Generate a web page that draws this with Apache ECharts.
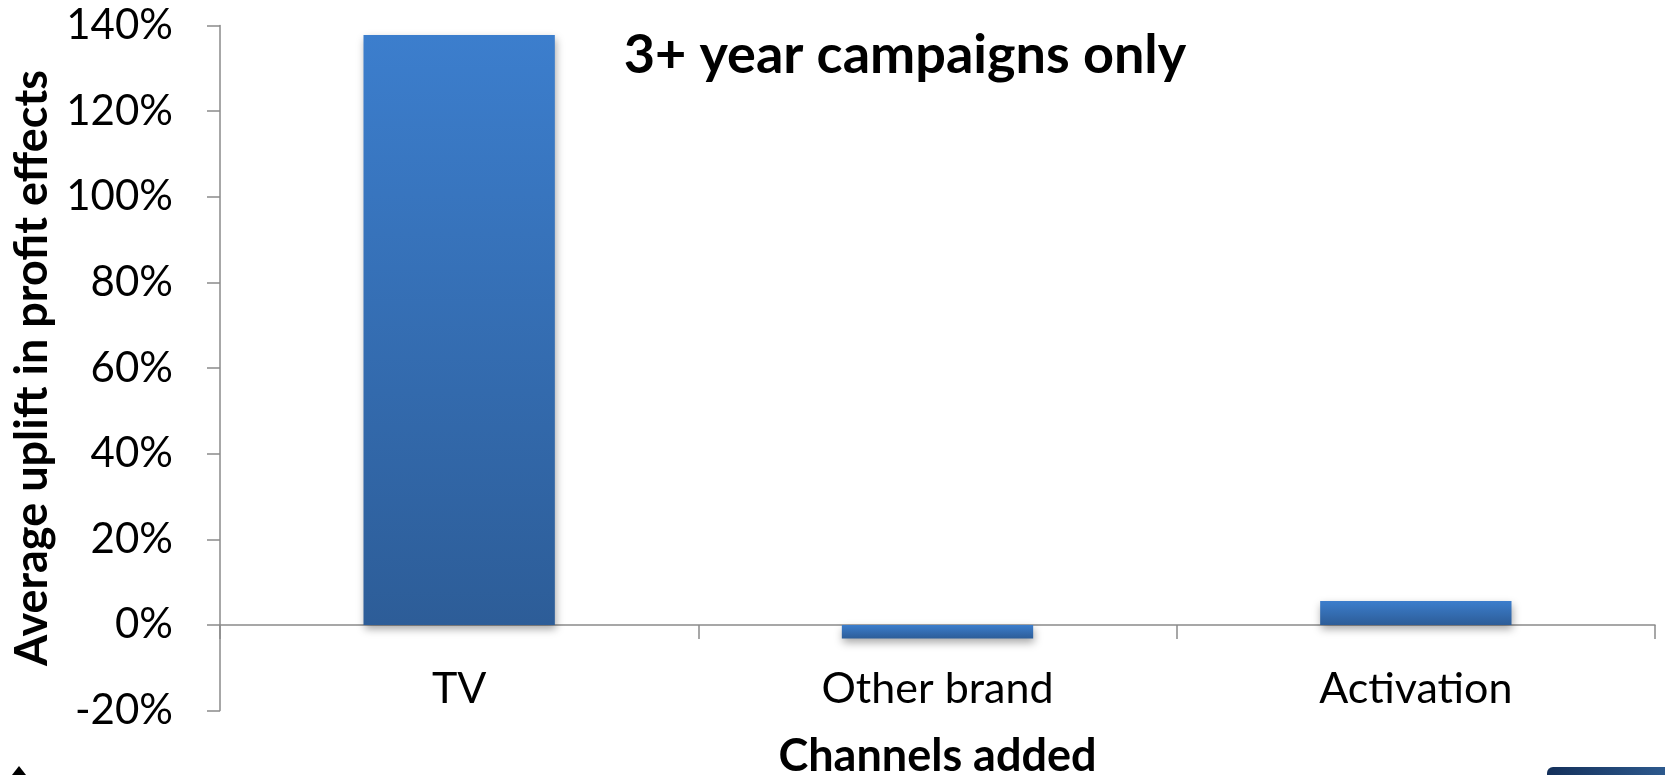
<!DOCTYPE html>
<html>
<head>
<meta charset="utf-8">
<script src="https://cdn.jsdelivr.net/npm/echarts@6/dist/echarts.min.js"></script>
<style>
  html, body { margin: 0; padding: 0; background: #ffffff; }
  #chart { width: 1665px; height: 775px; }
</style>
</head>
<body>
<div id="chart"></div>
<script>
// Channels added to long-running campaigns and the average profit uplift (%)
const categories = ['TV', 'Other brand', 'Activation'];
const upliftValues = [137.8, -3.2, 5.6];
const yTicks = [-20, 0, 20, 40, 60, 80, 100, 120, 140];

const titleText = '3+ year campaigns only';
const xAxisName = 'Channels added';
const yAxisName = 'Average uplift in profit effects';

const FONT = 'Lato, "Open Sans", sans-serif';
const AXIS_GREY = '#8a8a8a';

const chart = echarts.init(document.getElementById('chart'), null, { renderer: 'canvas' });

chart.setOption({
  backgroundColor: '#ffffff',
  animation: false,
  title: {
    text: titleText,
    left: 900,
    top: 24,
    textAlign: 'center',
    textStyle: { fontFamily: FONT, fontWeight: 'bold', fontSize: 54, color: '#000000' }
  },
  grid: {
    left: 220, right: 10, top: 25.5, bottom: 64.5,
    containLabel: false,
    outerBoundsMode: 'none'
  },
  xAxis: {
    type: 'category',
    data: categories,
    name: xAxisName,
    nameLocation: 'middle',
    nameGap: 23,
    nameTextStyle: { fontFamily: FONT, fontWeight: 'bold', fontSize: 45, color: '#000000' },
    axisLine: { onZero: true, lineStyle: { color: AXIS_GREY, width: 1.5 } },
    axisTick: { show: true, alignWithLabel: false, length: 14, lineStyle: { color: AXIS_GREY, width: 1.5 } },
    // labels sit in the band just above the bottom edge of the plot
    axisLabel: { margin: -43, fontFamily: FONT, fontSize: 43, color: '#000000' },
    splitLine: { show: false }
  },
  yAxis: {
    type: 'value',
    min: -20,
    max: 140,
    interval: 20,
    name: yAxisName,
    nameLocation: 'middle',
    nameGap: 153,
    nameRotate: 90,
    nameTextStyle: { fontFamily: FONT, fontWeight: 'bold', fontSize: 45, color: '#000000' },
    axisLine: { show: true, lineStyle: { color: AXIS_GREY, width: 1.5 } },
    axisTick: { show: true, length: 13, lineStyle: { color: AXIS_GREY, width: 1.5 } },
    axisLabel: {
      margin: 47,
      fontFamily: FONT,
      fontSize: 42,
      color: '#000000',
      formatter: function (v) { return yTicks.indexOf(v) >= 0 ? v + '%' : ''; }
    },
    splitLine: { show: false }
  },
  series: [{
    type: 'bar',
    data: upliftValues,
    barWidth: '40%',
    itemStyle: {
      color: new echarts.graphic.LinearGradient(0, 0, 0, 1, [
        { offset: 0, color: '#3c7ecd' },
        { offset: 1, color: '#2d5d98' }
      ]),
      shadowColor: 'rgba(0,0,0,0.35)',
      shadowBlur: 8,
      shadowOffsetX: 1,
      shadowOffsetY: 4
    }
  }],
  graphic: [
    {
      type: 'polygon',
      shape: { points: [[12, 775], [19, 766], [26, 775]] },
      style: { fill: '#000000' }
    },
    {
      type: 'rect',
      shape: { x: 1547, y: 767, width: 130, height: 20, r: 6 },
      style: {
        fill: new echarts.graphic.LinearGradient(0, 0, 1, 0, [
          { offset: 0, color: '#14305a' },
          { offset: 1, color: '#2f5d92' }
        ])
      }
    }
  ]
});
</script>
</body>
</html>
